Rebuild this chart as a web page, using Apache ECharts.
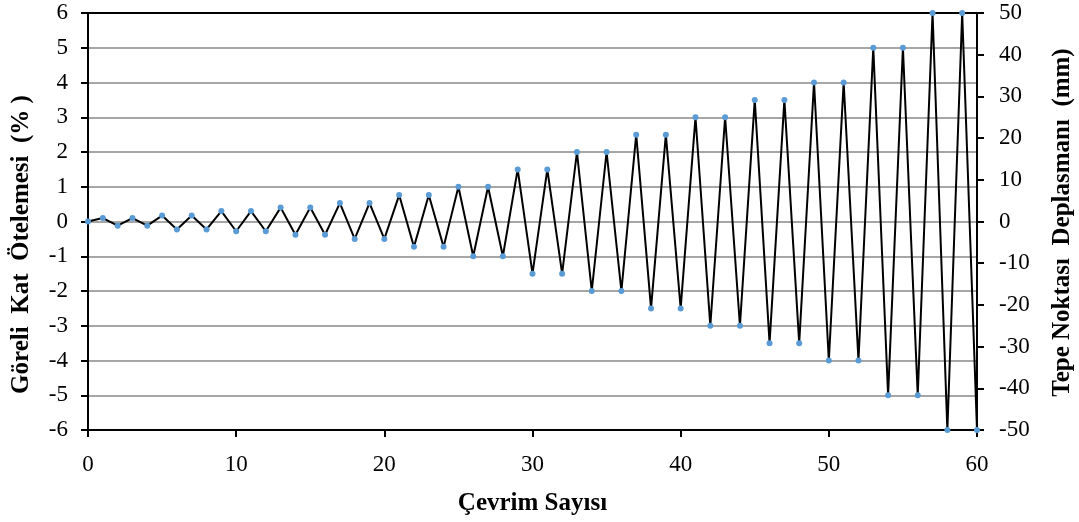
<!DOCTYPE html>
<html>
<head>
<meta charset="utf-8">
<script src="https://cdn.jsdelivr.net/npm/echarts@6/dist/echarts.min.js"></script>
<style>html,body{margin:0;padding:0;background:#fff}#c{width:1079px;height:522px}</style>
</head>
<body>
<div id="c"></div>
<script>
const cycles = [0,1,2,3,4,5,6,7,8,9,10,11,12,13,14,15,16,17,18,19,20,21,22,23,24,25,26,27,28,29,30,31,32,33,34,35,36,37,38,39,40,41,42,43,44,45,46,47,48,49,50,51,52,53,54,55,56,57,58,59,60];
const drift = [0,0.1,-0.12,0.1,-0.12,0.17,-0.23,0.17,-0.23,0.3,-0.28,0.3,-0.28,0.4,-0.38,0.4,-0.38,0.53,-0.5,0.53,-0.5,0.76,-0.73,0.76,-0.73,1.0,-1.0,1.0,-1.0,1.5,-1.5,1.5,-1.5,2.0,-2.0,2.0,-2.0,2.5,-2.5,2.5,-2.5,3.0,-3.0,3.0,-3.0,3.5,-3.5,3.5,-3.5,4.0,-4.0,4.0,-4.0,5.0,-5.0,5.0,-5.0,6.0,-6.0,6.0,-6.0];
const xTitle = 'Çevrim Sayısı';
const yLeftTitle = 'Göreli  Kat  Ötelemesi  (% )';
const yRightTitle = 'Tepe Noktası  Deplasmanı  (mm)';

const font = 'Liberation Serif';
const chart = echarts.init(document.getElementById('c'));
chart.setOption({
  animation: false,
  grid: {left: 88, right: 102, top: 13, bottom: 92, outerBoundsMode: 'none', containLabel: false, show: true, borderColor: '#000', borderWidth: 2, backgroundColor: 'transparent'},
  xAxis: {
    type: 'value', min: 0, max: 60, interval: 10,
    name: xTitle, nameLocation: 'middle', nameGap: 61,
    nameTextStyle: {fontFamily: font, fontSize: 25, fontWeight: 'bold', color: '#000'},
    axisLine: {onZero: false, lineStyle: {color: '#000', width: 2}},
    axisTick: {show: true, inside: false, length: 7, lineStyle: {color: '#000', width: 2}},
    axisLabel: {fontFamily: font, fontSize: 23, color: '#000', margin: 23},
    splitLine: {show: false}
  },
  yAxis: [{
    type: 'value', min: -6, max: 6, interval: 1, position: 'left',
    name: yLeftTitle, nameLocation: 'middle', nameGap: 54, nameRotate: 90,
    nameTextStyle: {fontFamily: font, fontSize: 25, fontWeight: 'bold', color: '#000', padding: [0, 46, 0, 0]},
    axisLine: {show: true, onZero: false, lineStyle: {color: '#000', width: 2}},
    axisTick: {show: true, length: 7, lineStyle: {color: '#000', width: 2}},
    axisLabel: {fontFamily: font, fontSize: 23, color: '#000', margin: 20},
    splitLine: {show: true, showMinLine: false, showMaxLine: false, lineStyle: {color: '#a6a6a6', width: 2}}
  }, {
    type: 'value', min: -50, max: 50, interval: 10, position: 'right',
    name: yRightTitle, nameLocation: 'middle', nameGap: 73, nameRotate: 90,
    nameTextStyle: {fontFamily: font, fontSize: 25, fontWeight: 'bold', color: '#000', padding: [0, 2, 0, 0]},
    axisLine: {show: true, onZero: false, lineStyle: {color: '#000', width: 2}},
    axisTick: {show: true, length: 7, lineStyle: {color: '#000', width: 2}},
    axisLabel: {fontFamily: font, fontSize: 23, color: '#000', margin: 22},
    splitLine: {show: false}
  }],
  series: [{
    type: 'line',
    yAxisIndex: 0,
    data: cycles.map((c, i) => [c, drift[i]]),
    lineStyle: {color: '#000', width: 2},
    symbol: 'circle', symbolSize: 6,
    itemStyle: {color: '#5b9bd5', borderColor: '#5b9bd5', borderWidth: 0},
    showAllSymbol: true,
    clip: false
  }]
});
</script>
</body>
</html>
